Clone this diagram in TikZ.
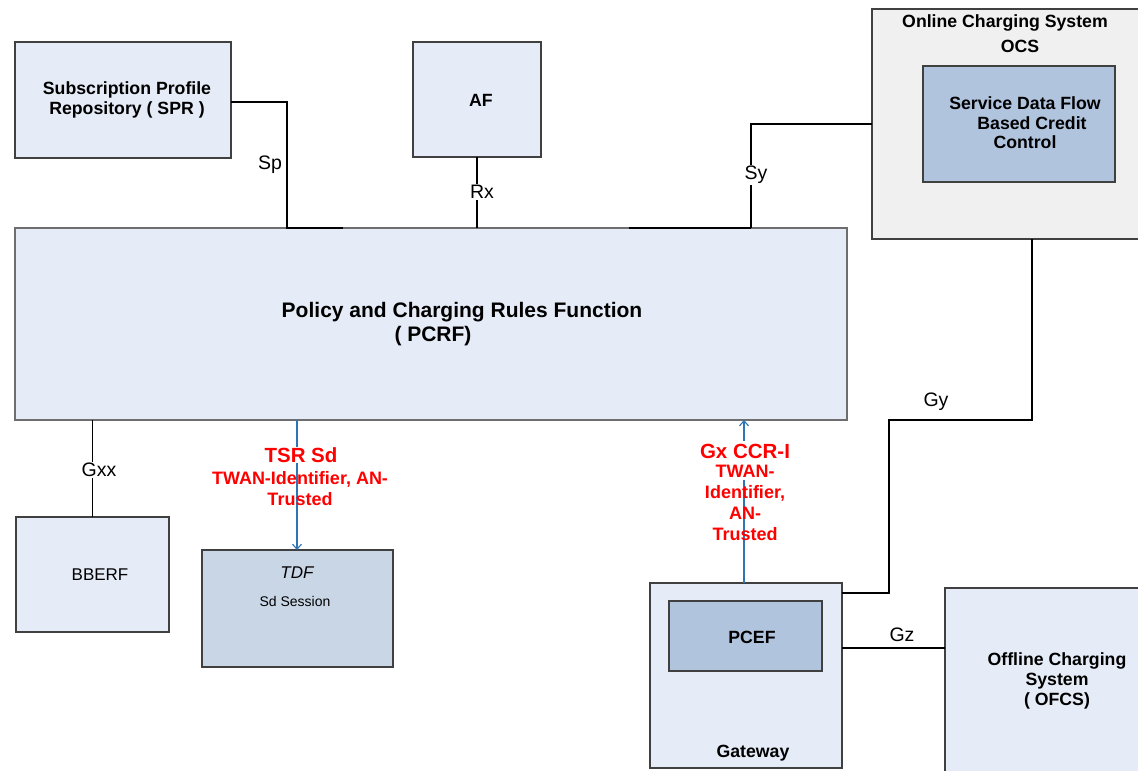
\documentclass[tikz,border=0pt]{standalone}
\usepackage{fontspec}
\setmainfont{Liberation Sans}
\usetikzlibrary{arrows.meta}

\definecolor{boxfill}{RGB}{230,236,247}
\definecolor{greyfill}{RGB}{240,240,240}
\definecolor{innerfill}{RGB}{176,196,222}
\definecolor{tdffill}{RGB}{201,214,230}
\definecolor{boxline}{RGB}{64,64,64}
\definecolor{pcrfline}{RGB}{110,110,110}
\definecolor{msgblue}{RGB}{46,117,182}
\definecolor{msgred}{RGB}{255,0,0}

\tikzset{
  box/.style={draw=boxline, line width=1.1pt, fill=boxfill, outer sep=0pt, inner sep=0pt},
  titlefont/.style={font=\fontsize{17.7}{19.6}\selectfont\bfseries, align=center, inner sep=0pt},
  plainfont/.style={font=\fontsize{17}{19.5}\selectfont, align=center, inner sep=0pt},
  iflabel/.style={font=\fontsize{19.5}{21}\selectfont, inner sep=1pt},
  link/.style={draw=black, line width=1.1pt},
  msg/.style={draw=msgblue, line width=1.1pt, -{Straight Barb[length=5pt,width=9pt]}},
  redbig/.style={text=msgred, font=\fontsize{20.5}{22}\selectfont\bfseries, inner sep=0.5pt},
  redsmall/.style={text=msgred, font=\fontsize{18}{21}\selectfont\bfseries, align=center, inner sep=0pt},
}

\begin{document}
\begin{tikzpicture}[x=1pt,y=-1pt]
\useasboundingbox (0,0) rectangle (1138,771);

% ---- boxes ----
\node[box, minimum width=216pt, minimum height=116pt] (spr) at (123,100) {};
\node[box, minimum width=128pt, minimum height=115pt] (af) at (477,99.5) {};
\node[box, fill=greyfill, minimum width=280pt, minimum height=230pt] (ocs) at (1012,124) {};
\node[box, fill=innerfill, minimum width=192pt, minimum height=116pt] (sdf) at (1019,124) {};
\node[box, draw=pcrfline, minimum width=832pt, minimum height=192pt] (pcrf) at (431,324) {};
\node[box, minimum width=153pt, minimum height=115pt] (bberf) at (92.5,574.5) {};
\node[box, fill=tdffill, minimum width=191pt, minimum height=117pt] (tdf) at (297.5,608.5) {};
\node[box, minimum width=192pt, minimum height=185pt] (gw) at (746,675.5) {};
\node[box, fill=innerfill, minimum width=153pt, minimum height=70pt] (pcef) at (745.5,636) {};
\node[box, minimum width=200pt, minimum height=192pt] (ofcs) at (1045,684) {};

% ---- box texts ----
\node[titlefont] (sprtxt) at (127,100) {Subscription Profile\\Repository ( SPR )};
\node[titlefont] (aftxt) at (481,100) {AF};
\node[titlefont] (ocstxt) at (1005,23) {Online Charging System};
\node[titlefont] (ocsabbr) at (1020,46) {OCS};
\node[titlefont] (sdftxt) at (1025,123) {Service Data Flow\\\hspace*{14pt}Based Credit\\Control};
\node[font=\fontsize{21}{23}\selectfont\bfseries, inner sep=0pt] (pcrftxt) at (462,312) {Policy and Charging Rules Function};
\node[font=\fontsize{21}{23}\selectfont\bfseries, inner sep=0pt] (pcrfabbr) at (433,336) {( PCRF)};
\node[plainfont] (bberftxt) at (100,575) {BBERF};
\node[plainfont, font=\fontsize{17}{19.5}\selectfont\itshape] (tdftxt) at (297,573) {TDF};
\node[plainfont, font=\fontsize{14}{16}\selectfont] (tdfsess) at (295,601) {Sd Session};
\node[titlefont] (pceftxt) at (752,637) {PCEF};
\node[titlefont] (gwtxt) at (753,753) {Gateway};
\node[titlefont] (ofcstxt) at (1057,681) {Offline Charging\\System\\( OFCS)};

% ---- reference points on the PCRF edges ----
\coordinate (spjoin) at (287,228);
\coordinate (spend) at (343,228);
\coordinate (syjoin) at (751,228);
\coordinate (systart) at (629,228);
\coordinate (gycorner) at (1032,420);
\coordinate (gyleft) at (889,420);
\coordinate (gyfoot) at (889,593);
\coordinate (gzy) at (842,648);

% ---- interfaces ----
\draw[link] (spr.east |- 0,102) -| (spjoin) -- (spend);
\draw[link] (af.south) -- (af.south |- pcrf.north);
\draw[link] (ocs.west) -| (syjoin);
\draw[link] (systart) -- (syjoin);
\draw[link] (ocs.south -| gycorner) -- (gycorner) -- (gyleft) -- (gyfoot) -- (gyfoot -| gw.east);
\draw[link] (bberf.north) -- (bberf.north |- pcrf.south);
\draw[link] (gzy) -- (gzy -| ofcs.west);

\node[iflabel] (splbl) at (270,165) {Sp};
\node[iflabel, fill=white] (rxlbl) at (482,192) {Rx};
\node[iflabel, fill=white] (sylbl) at (756,175) {Sy};
\node[iflabel] (gylbl) at (936,402) {Gy};
\node[iflabel, fill=white] (gxxlbl) at (99,470) {Gxx};
\node[iflabel] (gzlbl) at (902,635) {Gz};

% ---- Sd and Gx messages ----
\coordinate (sdtop) at (297,420);
\draw[msg] (sdtop) -- (sdtop |- tdf.north);
\coordinate (gxbot) at (744,583);
\draw[msg] (gxbot) -- (gxbot |- pcrf.south);

\node[redbig, fill=white] (tsr) at (301,455) {TSR Sd};
\node[redsmall] (tsrinfo) at (300,489) {TWAN-Identifier, AN-\\Trusted};
\node[fill=white, inner sep=0pt, minimum width=20pt, minimum height=39pt] (gxmask) at (745,460.5) {};
\node[redbig] (gxccr) at (745,451) {Gx CCR-I};
\node[redsmall] (gxinfo) at (745,503) {TWAN-\\Identifier,\\AN-\\Trusted};
\end{tikzpicture}
\end{document}
